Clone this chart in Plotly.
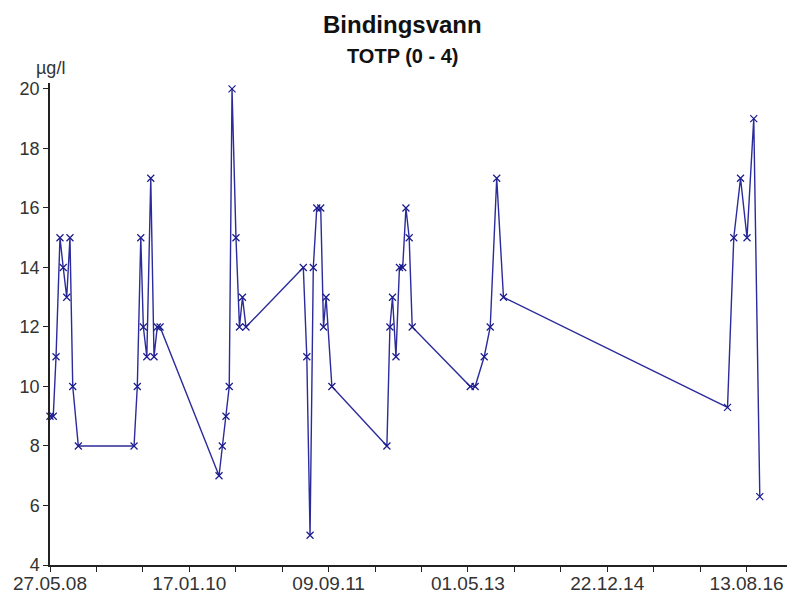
import pandas as pd
import plotly.graph_objects as go

# sample dates and TOTP values
dates = [
    "2008-05-27", "2008-06-10", "2008-06-22", "2008-07-09", "2008-07-23", "2008-08-07",
    "2008-08-21", "2008-09-02", "2008-09-26",
    "2009-05-24", "2009-06-07", "2009-06-22", "2009-07-03", "2009-07-18", "2009-08-04",
    "2009-08-18", "2009-09-01", "2009-09-13",
    "2010-05-25", "2010-06-08", "2010-06-24", "2010-07-08", "2010-07-20", "2010-08-06",
    "2010-08-21", "2010-09-03", "2010-09-18",
    "2011-05-23", "2011-06-07", "2011-06-21", "2011-07-05", "2011-07-20", "2011-08-06",
    "2011-08-18", "2011-08-29", "2011-09-23",
    "2012-05-17", "2012-05-30", "2012-06-10", "2012-06-25", "2012-07-10", "2012-07-24",
    "2012-08-07", "2012-08-21", "2012-09-03",
    "2013-05-11", "2013-06-01", "2013-07-10", "2013-08-05", "2013-09-02", "2013-10-01",
    "2016-05-23", "2016-06-19", "2016-07-18", "2016-08-15", "2016-09-13", "2016-10-09",
]
values = [
    9, 9, 11, 15, 14, 13, 15, 10, 8,
    8, 10, 15, 12, 11, 17, 11, 12, 12,
    7, 8, 9, 10, 20, 15, 12, 13, 12,
    14, 11, 5, 14, 16, 16, 12, 13, 10,
    8, 12, 13, 11, 14, 14, 16, 15, 12,
    10, 10, 11, 12, 17, 13,
    9.3, 15, 17, 15, 19, 6.3,
]

title = "Bindingsvann"
subtitle = "TOTP (0 - 4)"
unit = "µg/l"

x_start = "2008-05-27"
x_end = "2017-03-01"
y_ticks = [4, 6, 8, 10, 12, 14, 16, 18, 20]

# ticks every 200 days, label every third one
tick_dates = pd.date_range(x_start, x_end, freq="200D")
tick_text = [d.strftime("%d.%m.%y") if i % 3 == 0 else "" for i, d in enumerate(tick_dates)]

fig = go.Figure()
fig.add_trace(go.Scatter(
    x=pd.to_datetime(dates), y=values,
    mode="lines+markers",
    line=dict(color="#2b2b9c", width=1.4),
    marker=dict(symbol="x-thin", size=7, line=dict(color="#1a1a8c", width=1.2)),
    showlegend=False,
    cliponaxis=False,
))

font = "Liberation Sans, Arial, sans-serif"
# page body has an 8px margin, so the figure is 8px smaller and margins shifted
fig.update_layout(
    width=787, height=594,
    margin=dict(l=42, r=2, t=75, b=37, autoexpand=False),
    paper_bgcolor="white", plot_bgcolor="white",
    font=dict(family=font, color="#333333"),
    xaxis=dict(
        type="date", range=[x_start, x_end],
        tickvals=tick_dates, ticktext=tick_text,
        ticks="outside", ticklen=5, tickcolor="#222222",
        showline=True, linecolor="#222222", linewidth=1.5,
        showgrid=False, zeroline=False, automargin=False,
        ticklabelstandoff=-5,
        tickfont=dict(size=19, color="#333333"),
    ),
    yaxis=dict(
        range=[4, 20.2], tickvals=y_ticks,
        ticks="outside", ticklen=5, tickcolor="#222222",
        showline=True, linecolor="#222222", linewidth=1.5,
        showgrid=False, zeroline=False, automargin=False,
        tickfont=dict(size=18, color="#333333"),
    ),
    annotations=[
        dict(text="<b>" + title + "</b>", x=0.4751, y=1.1224, xref="paper", yref="paper",
             xanchor="center", yanchor="middle", showarrow=False,
             font=dict(size=24, color="#111111", family=font)),
        dict(text="<b>" + subtitle + "</b>", x=0.4745, y=1.056, xref="paper", yref="paper",
             xanchor="center", yanchor="middle", showarrow=False,
             font=dict(size=20, color="#111111", family=font)),
        dict(text=unit, x=0.0, y=1.031, xref="paper", yref="paper",
             xanchor="center", yanchor="middle", showarrow=False,
             font=dict(size=18, color="#333333", family=font)),
    ],
)

fig.write_html("out.html")
